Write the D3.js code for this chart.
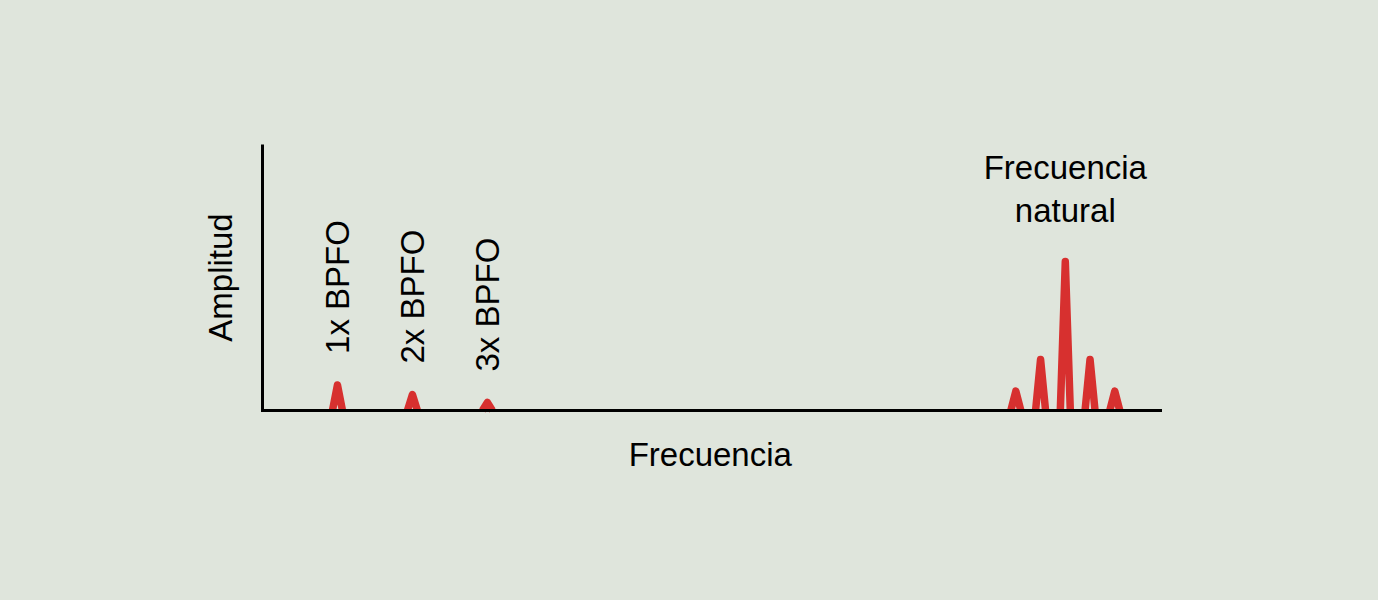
<!DOCTYPE html>
<html>
<head>
<meta charset="utf-8">
<script src="https://cdn.jsdelivr.net/npm/d3@7"></script>
<style>
  html, body { margin: 0; padding: 0; background: #dfe5dc; }
  svg { display: block; }
  text { font-family: "Liberation Sans", Arial, sans-serif; fill: #000; }
</style>
</head>
<body>
<svg id="chart" width="1378" height="600"></svg>
<script>
// Data
const harmonicLabels = ["1x BPFO", "2x BPFO", "3x BPFO"];
const harmonicFreq = [1, 2, 3];
const harmonicAmp = [9.6, 6.0, 3.0];
const naturalFreq = [10.05, 10.38, 10.71, 11.04, 11.37];
const naturalAmp = [7.3, 19.2, 56, 19.2, 7.3];
const naturalLabel = ["Frecuencia", "natural"];
const xTitle = "Frecuencia";
const yTitle = "Amplitud";

const svg = d3.select("#chart");
const margin = { left: 262.5, right: 1378 - 1162, top: 144.5, bottom: 600 - 410.5 };
const x = d3.scaleLinear().domain([0, 12]).range([margin.left, 1162]);
const y = d3.scaleLinear().domain([0, 100]).range([410.5, margin.top]);

const fontSize = 33;
const halfW = 5;
const red = "#d7302f";

const peaks = harmonicFreq.map((f, i) => ({ f, a: harmonicAmp[i] }))
  .concat(naturalFreq.map((f, i) => ({ f, a: naturalAmp[i] })));

svg.append("g").selectAll("path").data(peaks).join("path")
  .attr("d", d => d3.line()([[x(d.f) - halfW, y(0)], [x(d.f), y(d.a)], [x(d.f) + halfW, y(0)]]))
  .attr("fill", "none")
  .attr("stroke", red)
  .attr("stroke-width", 7.5)
  .attr("stroke-linejoin", "round")
  .attr("stroke-linecap", "butt");

// Axes (lines only)
svg.append("line")
  .attr("x1", x(0)).attr("x2", x(0))
  .attr("y1", y(100)).attr("y2", y(0) + 1.5)
  .attr("stroke", "#000").attr("stroke-width", 3);
svg.append("line")
  .attr("x1", x(0) - 1.5).attr("x2", x(12))
  .attr("y1", y(0)).attr("y2", y(0))
  .attr("stroke", "#000").attr("stroke-width", 3);

// Harmonic labels (rotated)
svg.append("g").selectAll("text").data(harmonicLabels).join("text")
  .attr("transform", (d, i) => `translate(${x(harmonicFreq[i]) + 12},${y(harmonicAmp[i]) - 31}) rotate(-90)`)
  .attr("text-anchor", "start")
  .attr("font-size", fontSize)
  .text(d => d);

// Natural frequency label
const nf = svg.append("text")
  .attr("x", x(naturalFreq[2]))
  .attr("y", 179)
  .attr("text-anchor", "middle")
  .attr("font-size", fontSize);
nf.selectAll("tspan").data(naturalLabel).join("tspan")
  .attr("x", x(naturalFreq[2]))
  .attr("dy", (d, i) => i === 0 ? 0 : 43)
  .text(d => d);

// Axis titles
svg.append("text")
  .attr("x", (x(0) + x(12)) / 2 - 2)
  .attr("y", 466)
  .attr("text-anchor", "middle")
  .attr("font-size", fontSize)
  .text(xTitle);

svg.append("text")
  .attr("transform", `translate(232,${(y(0) + y(100)) / 2}) rotate(-90)`)
  .attr("text-anchor", "middle")
  .attr("font-size", fontSize)
  .text(yTitle);
</script>
</body>
</html>
